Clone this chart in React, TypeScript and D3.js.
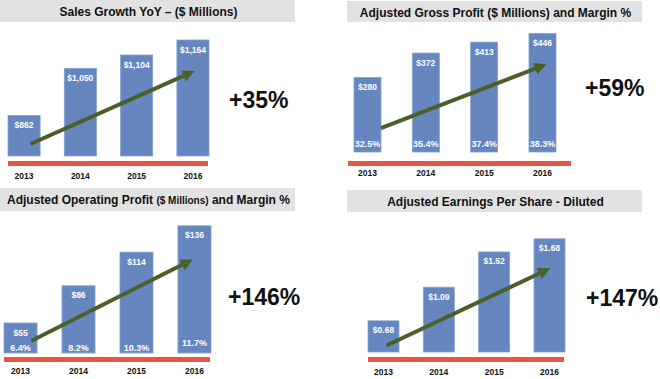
import React from "react";
import * as d3 from "d3";

const years = ["2013", "2014", "2015", "2016"];
const salesValues = [862, 1050, 1104, 1164];
const salesLabels = ["$862", "$1,050", "$1,104", "$1,164"];
const grossValues = [280, 372, 413, 446];
const grossLabels = ["$280", "$372", "$413", "$446"];
const grossMargins = ["32.5%", "35.4%", "37.4%", "38.3%"];
const opValues = [55, 86, 114, 136];
const opLabels = ["$55", "$86", "$114", "$136"];
const opMargins = ["6.4%", "8.2%", "10.3%", "11.7%"];
const epsValues = [0.68, 1.09, 1.52, 1.68];
const epsLabels = ["$0.68", "$1.09", "$1.52", "$1.68"];
const growthLabels = ["+35%", "+59%", "+146%", "+147%"];

const BAR = "#6586BF";
const BAR_EDGE = "#86A0CF";
const RED = "#EA5443";
const GREEN = "#4B5F29";
const GRAY = "#E2E2E2";
const FONT = "'Liberation Sans', Arial, Helvetica, sans-serif";

type Panel = {
  values: number[];
  labels: string[];
  margins?: string[];
  marginOffset?: number[];
  growth: string;
  domain: [number, number];
  yRange: [number, number];
  xRange: [number, number];
  padding: number;
  redX: [number, number];
  redY: number;
  yearY: number;
  titleBox: [number, number, number, number];
  titleY: number;
  title: React.ReactNode;
  growthX: number;
  growthY: number;
  arrow: [number, number, number, number]; // fractions of band + values
};

const panels: Panel[] = [
  {
    values: salesValues,
    labels: salesLabels,
    growth: growthLabels[0],
    domain: [700, 1200],
    yRange: [156, 31],
    xRange: [8, 209],
    padding: 0.43,
    redX: [8, 208],
    redY: 161,
    yearY: 179,
    titleBox: [0, 0, 295, 22],
    titleY: 16,
    title: <tspan>Sales Growth YoY – ($ Millions)</tspan>,
    growthX: 229,
    growthY: 108,
    arrow: [0.7, 748, 0.55, 1040],
  },
  {
    values: grossValues,
    labels: grossLabels,
    margins: grossMargins,
    marginOffset: [5, 5, 5, 5],
    growth: growthLabels[1],
    domain: [0, 500],
    yRange: [152, 19],
    xRange: [354, 556],
    padding: 0.537,
    redX: [348, 571],
    redY: 161,
    yearY: 176,
    titleBox: [347, 1, 295, 21],
    titleY: 17,
    title: <tspan>Adjusted Gross Profit ($ Millions) and Margin %</tspan>,
    growthX: 585,
    growthY: 96,
    arrow: [1.0, 90, 0.65, 330],
  },
  {
    values: opValues,
    labels: opLabels,
    margins: opMargins,
    marginOffset: [2, 2, 2, 7],
    growth: growthLabels[2],
    domain: [30, 150],
    yRange: [353, 209],
    xRange: [4, 211],
    padding: 0.43,
    redX: [4, 210],
    redY: 357,
    yearY: 374,
    titleBox: [0, 188, 295, 23],
    titleY: 204,
    title: (
      <>
        <tspan>Adjusted Operating Profit </tspan>
        <tspan fontSize={10}>($ Millions)</tspan>
        <tspan> and Margin %</tspan>
      </>
    ),
    growthX: 228,
    growthY: 305,
    arrow: [0.82, 40, 0.45, 108],
  },
  {
    values: epsValues,
    labels: epsLabels,
    growth: growthLabels[3],
    domain: [0.3, 1.8],
    yRange: [352, 229],
    xRange: [368, 565],
    padding: 0.44,
    redX: [368, 564],
    redY: 357,
    yearY: 375,
    titleBox: [347, 190, 295, 22],
    titleY: 206,
    title: <tspan>Adjusted Earnings Per Share - Diluted</tspan>,
    growthX: 586,
    growthY: 306,
    arrow: [0.6, 0.38, 0.52, 1.32],
  },
];

function PanelView({ p }: { p: Panel }) {
  const x = d3.scaleBand<string>().domain(years).range(p.xRange).paddingInner(p.padding).paddingOuter(0);
  const y = d3.scaleLinear().domain(p.domain).range(p.yRange);
  const bw = x.bandwidth();
  const base = p.yRange[0];
  const ax1 = (x(years[0]) as number) + bw * p.arrow[0];
  const ay1 = y(p.arrow[1]);
  const ax2 = (x(years[3]) as number) + bw * p.arrow[2];
  const ay2 = y(p.arrow[3]);
  const ang = Math.atan2(ay2 - ay1, ax2 - ax1);
  const headL = 12;
  const headW = 6;
  const bx = ax2 - headL * Math.cos(ang);
  const by = ay2 - headL * Math.sin(ang);
  const px = -Math.sin(ang);
  const py = Math.cos(ang);
  const head = `M${ax2},${ay2} L${bx + px * headW},${by + py * headW} L${bx - px * headW},${by - py * headW} Z`;
  const cx = (p.titleBox[0] + p.titleBox[2] / 2) + 1;
  return (
    <g>
      <rect x={p.titleBox[0]} y={p.titleBox[1]} width={p.titleBox[2]} height={p.titleBox[3]} fill={GRAY} />
      <text x={cx} y={p.titleY} textAnchor="middle" fontSize={12} fontWeight="bold" fill="#111" fontFamily={FONT}>
        {p.title}
      </text>
      {years.map((yr, i) => {
        const bx0 = x(yr) as number;
        const top = y(p.values[i]);
        return (
          <g key={yr}>
            <rect x={bx0} y={top} width={bw} height={base - top} fill={BAR} stroke={BAR_EDGE} strokeWidth={0.8} />
            <text x={bx0 + bw / 2} y={top + 12.5} textAnchor="middle" fontSize={8.5} fontWeight="bold" fill="#fff" fontFamily={FONT}>
              {p.labels[i]}
            </text>
            {p.margins && (
              <text x={bx0 + bw / 2} y={base - (p.marginOffset ? p.marginOffset[i] : 4)} textAnchor="middle" fontSize={9} fontWeight="bold" fill="#fff" fontFamily={FONT}>
                {p.margins[i]}
              </text>
            )}
            <text x={bx0 + bw / 2} y={p.yearY} textAnchor="middle" fontSize={8.5} fontWeight="bold" fill="#111" fontFamily={FONT}>
              {yr}
            </text>
          </g>
        );
      })}
      <rect x={p.redX[0]} y={p.redY} width={p.redX[1] - p.redX[0]} height={5} fill={RED} />
      <line x1={ax1} y1={ay1} x2={bx} y2={by} stroke={GREEN} strokeWidth={4} />
      <path d={head} fill={GREEN} />
      <text x={p.growthX} y={p.growthY} fontSize={23} fontWeight="bold" fill="#111" fontFamily={FONT}>
        {p.growth}
      </text>
    </g>
  );
}

export default function App() {
  return (
    <svg width={660} height={379} style={{ position: "absolute", left: 0, top: 0, background: "#fff" }}>
      <rect x={0} y={0} width={660} height={379} fill="#fff" />
      {panels.map((p, i) => (
        <PanelView key={i} p={p} />
      ))}
    </svg>
  );
}
